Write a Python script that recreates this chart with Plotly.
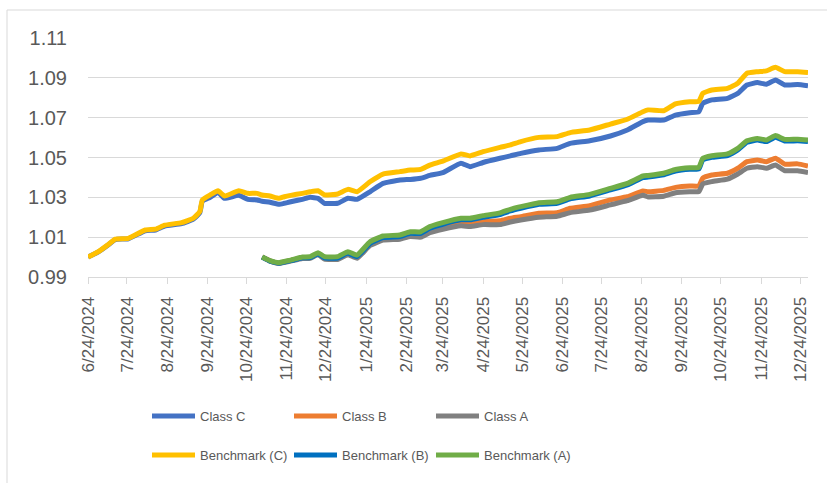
import plotly.graph_objects as go

dates = [
    "2024-06-24", "2024-07-02", "2024-07-09", "2024-07-15", "2024-07-25", "2024-08-07",
    "2024-08-15", "2024-08-22", "2024-09-04", "2024-09-13", "2024-09-18", "2024-09-20",
    "2024-09-26", "2024-10-02", "2024-10-07", "2024-10-18", "2024-10-25", "2024-11-01",
    "2024-11-05", "2024-11-11", "2024-11-18", "2024-11-22", "2024-11-27", "2024-12-06",
    "2024-12-12", "2024-12-18", "2024-12-23", "2025-01-02", "2025-01-10", "2025-01-17",
    "2025-01-27", "2025-02-06", "2025-02-19", "2025-02-27", "2025-03-07", "2025-03-14",
    "2025-03-24", "2025-04-07", "2025-04-14", "2025-04-24", "2025-05-07", "2025-05-15",
    "2025-05-23", "2025-06-06", "2025-06-20", "2025-06-30", "2025-07-15", "2025-07-31",
    "2025-08-13", "2025-08-25", "2025-08-29", "2025-09-10", "2025-09-19", "2025-09-30",
    "2025-10-07", "2025-10-10", "2025-10-17", "2025-10-29", "2025-11-06", "2025-11-13",
    "2025-11-21", "2025-11-28", "2025-12-05", "2025-12-12", "2025-12-22", "2025-12-30",
]
# Class A / Class B and their benchmarks start on 2024-11-05
dates_ab = dates[18:]

bench_c = [
    1.0000, 1.0027, 1.0060, 1.0090, 1.0094, 1.0136, 1.0140, 1.0160, 1.0173, 1.0195,
    1.0228, 1.0287, 1.0312, 1.0333, 1.0307, 1.0333, 1.0320, 1.0320,
    1.0312, 1.0307, 1.0295, 1.0303, 1.0310, 1.0320, 1.0328, 1.0333, 1.0312, 1.0317,
    1.0340, 1.0328, 1.0378, 1.0417, 1.0429, 1.0437, 1.0440, 1.0462, 1.0482,
    1.0518, 1.0508, 1.0529, 1.0551, 1.0563, 1.0580, 1.0601, 1.0605, 1.0625,
    1.0638, 1.0668, 1.0692, 1.0730, 1.0739, 1.0735, 1.0769, 1.0780, 1.0782,
    1.0822, 1.0839, 1.0847, 1.0873, 1.0923, 1.0931, 1.0935, 1.0953, 1.0931, 1.0931, 1.0927,
]
class_c = [
    1.0000, 1.0026, 1.0058, 1.0088, 1.0092, 1.0132, 1.0136, 1.0156, 1.0168, 1.0190,
    1.0222, 1.0280, 1.0300, 1.0325, 1.0295, 1.0310, 1.0290, 1.0287,
    1.0280, 1.0275, 1.0265, 1.0270, 1.0278, 1.0290, 1.0300, 1.0295, 1.0270, 1.0270,
    1.0295, 1.0290, 1.0328, 1.0370, 1.0387, 1.0390, 1.0396, 1.0410, 1.0424,
    1.0471, 1.0454, 1.0475, 1.0496, 1.0508, 1.0521, 1.0538, 1.0546, 1.0571,
    1.0584, 1.0608, 1.0638, 1.0680, 1.0688, 1.0688, 1.0713, 1.0725, 1.0730,
    1.0772, 1.0789, 1.0797, 1.0822, 1.0864, 1.0876, 1.0868, 1.0889, 1.0864, 1.0866, 1.0860,
]
bench_a = [
    1.0000, 0.9982, 0.9972, 0.9978, 0.9985, 1.0000, 1.0002, 1.0022, 1.0002, 1.0002,
    1.0027, 1.0010, 1.0077, 1.0106, 1.0111, 1.0127, 1.0127, 1.0153, 1.0173,
    1.0195, 1.0195, 1.0208, 1.0222, 1.0240, 1.0253, 1.0273, 1.0278, 1.0300,
    1.0315, 1.0345, 1.0370, 1.0407, 1.0410, 1.0421, 1.0440, 1.0449, 1.0450,
    1.0496, 1.0509, 1.0518, 1.0546, 1.0584, 1.0596, 1.0588, 1.0610, 1.0591, 1.0592, 1.0588,
]
bench_b = [
    1.0000, 0.9980, 0.9969, 0.9975, 0.9982, 0.9996, 0.9997, 1.0016, 0.9996, 0.9995,
    1.0020, 1.0003, 1.0069, 1.0098, 1.0103, 1.0119, 1.0119, 1.0145, 1.0165,
    1.0187, 1.0187, 1.0200, 1.0214, 1.0232, 1.0245, 1.0265, 1.0270, 1.0292,
    1.0307, 1.0337, 1.0362, 1.0399, 1.0402, 1.0413, 1.0432, 1.0441, 1.0442,
    1.0488, 1.0501, 1.0510, 1.0538, 1.0576, 1.0588, 1.0580, 1.0602, 1.0583, 1.0584, 1.0580,
]
class_b = [
    1.0000, 0.9981, 0.9970, 0.9976, 0.9983, 0.9997, 0.9998, 1.0017, 0.9996, 0.9995,
    1.0019, 1.0001, 1.0067, 1.0095, 1.0099, 1.0113, 1.0112, 1.0136, 1.0154,
    1.0172, 1.0170, 1.0178, 1.0182, 1.0195, 1.0203, 1.0220, 1.0223, 1.0245,
    1.0258, 1.0287, 1.0303, 1.0332, 1.0328, 1.0335, 1.0350, 1.0357, 1.0357,
    1.0396, 1.0412, 1.0421, 1.0446, 1.0479, 1.0487, 1.0479, 1.0496, 1.0467, 1.0468, 1.0457,
]
class_a = [
    1.0000, 0.9980, 0.9968, 0.9973, 0.9980, 0.9993, 0.9994, 1.0012, 0.9990, 0.9988,
    1.0012, 0.9994, 1.0058, 1.0085, 1.0090, 1.0103, 1.0100, 1.0123, 1.0140,
    1.0157, 1.0153, 1.0163, 1.0163, 1.0176, 1.0186, 1.0200, 1.0205, 1.0223,
    1.0236, 1.0262, 1.0283, 1.0310, 1.0302, 1.0305, 1.0323, 1.0328, 1.0329,
    1.0367, 1.0379, 1.0391, 1.0417, 1.0446, 1.0454, 1.0446, 1.0462, 1.0434, 1.0433, 1.0424,
]

tick_dates = [
    "2024-06-24", "2024-07-24", "2024-08-24", "2024-09-24", "2024-10-24", "2024-11-24",
    "2024-12-24", "2025-01-24", "2025-02-24", "2025-03-24", "2025-04-24", "2025-05-24",
    "2025-06-24", "2025-07-24", "2025-08-24", "2025-09-24", "2025-10-24", "2025-11-24",
    "2025-12-24",
]
tick_labels = [
    "6/24/2024", "7/24/2024", "8/24/2024", "9/24/2024", "10/24/2024", "11/24/2024",
    "12/24/2024", "1/24/2025", "2/24/2025", "3/24/2025", "4/24/2025", "5/24/2025",
    "6/24/2025", "7/24/2025", "8/24/2025", "9/24/2025", "10/24/2025", "11/24/2025",
    "12/24/2025",
]

series = [
    ("Class C", dates, class_c, "#4472C4", "legend"),
    ("Class B", dates_ab, class_b, "#ED7D31", "legend"),
    ("Class A", dates_ab, class_a, "#808080", "legend"),
    ("Benchmark (C)", dates, bench_c, "#FFC000", "legend2"),
    ("Benchmark (B)", dates_ab, bench_b, "#0070C0", "legend2"),
    ("Benchmark (A)", dates_ab, bench_a, "#70AD47", "legend2"),
]

W, H = 827, 483
L, R, T, B = 88, 19, 38, 206
pw, ph = W - L - R, H - T - B

fig = go.Figure()
for name, xs, ys, color, lg in series:
    fig.add_trace(go.Scatter(
        x=xs, y=ys, name=name, mode="lines",
        line=dict(color=color, width=5, shape="spline", smoothing=0.4),
        legend=lg,
    ))

txt = "#595959"
grid = "#D9D9D9"
font_main = "Liberation Sans, Arial, sans-serif"

def px_x(p):
    return (p - L) / pw

def px_y(p):
    return (H - B - p) / ph

legend_common = dict(
    orientation="h", xanchor="left", yanchor="middle",
    font=dict(family=font_main, size=13, color=txt),
    bgcolor="rgba(0,0,0,0)", borderwidth=0,
    entrywidth=84, entrywidthmode="pixels", itemwidth=43,
    traceorder="normal",
)

fig.update_layout(
    width=W, height=H,
    margin=dict(l=L, r=R, t=T, b=B, pad=0, autoexpand=False),
    paper_bgcolor="white", plot_bgcolor="white",
    font=dict(family=font_main, color=txt),
    legend=dict(x=px_x(147), y=px_y(416), **legend_common),
    legend2=dict(x=px_x(147), y=px_y(455), **legend_common),
    xaxis=dict(
        type="date",
        range=["2024-06-24", "2025-12-30"],
        tickmode="array", tickvals=tick_dates, ticktext=tick_labels,
        tickangle=-90,
        tickfont=dict(family=font_main, size=17, color=txt),
        ticks="outside", ticklen=6, tickcolor=grid, tickwidth=1,
        showline=True, linecolor=grid, linewidth=1,
        showgrid=False, zeroline=False, automargin=False,
        ticklabelstandoff=6,
    ),
    yaxis=dict(
        range=[0.99, 1.11], dtick=0.02, tick0=0.99,
        tickformat=".2f",
        tickfont=dict(family=font_main, size=20, color=txt),
        showgrid=True, gridcolor=grid, gridwidth=1,
        zeroline=False, showline=False, ticks="", automargin=False,
        ticklabelstandoff=20,
    ),
    shapes=[dict(
        type="rect", xref="paper", yref="paper",
        x0=px_x(7), x1=px_x(840), y0=px_y(495), y1=px_y(10),
        line=dict(color=grid, width=1), fillcolor="rgba(0,0,0,0)", layer="below",
    )],
)

fig.write_html(
    "out.html",
    config={"displayModeBar": False, "staticPlot": True},
    post_script="document.body.style.margin='0';document.body.style.overflow='hidden';",
)
